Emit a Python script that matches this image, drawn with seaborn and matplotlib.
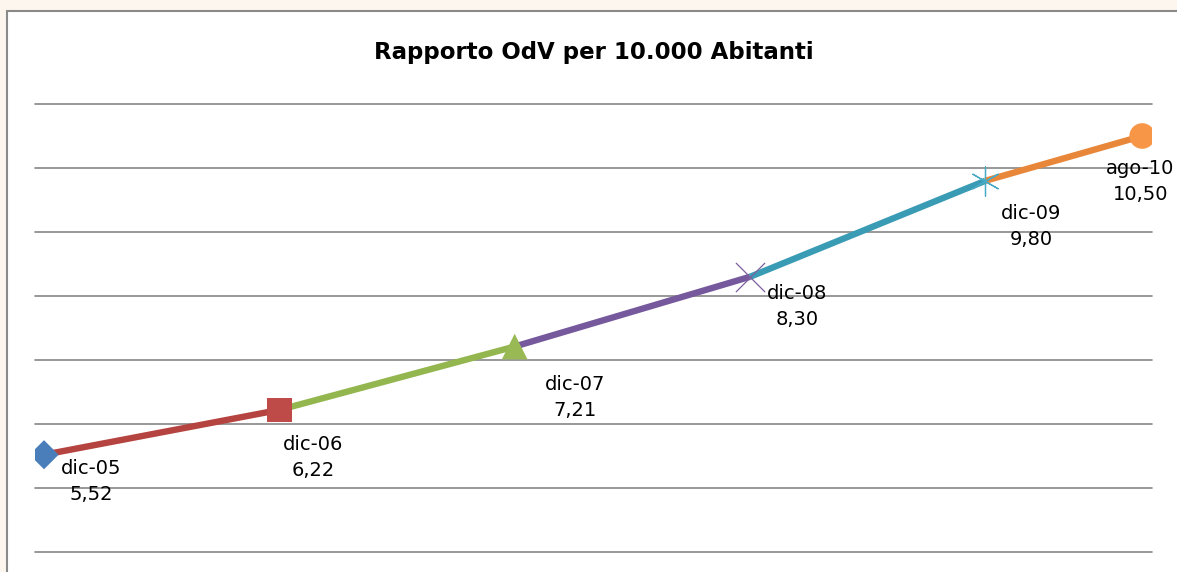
import numpy as np
import pandas as pd
import matplotlib
matplotlib.use("Agg")
import matplotlib.pyplot as plt
import seaborn as sns
from matplotlib.patches import Rectangle

sns.set_theme(style="white")
plt.rcParams['font.family'] = ['DejaVu Sans']

# data
periods = ['2005-12', '2006-12', '2007-12', '2008-12', '2009-12', '2010-08']
labels = ['dic-05', 'dic-06', 'dic-07', 'dic-08', 'dic-09', 'ago-10']
values = [5.52, 6.22, 7.21, 8.30, 9.80, 10.50]

# one colour / marker per point (Excel "vary colours by point")
colors = ['#4A7EBB', '#BE4B48', '#98B954', '#7D60A0', '#46AAC5', '#F79646']
line_colors = ['#4A7EBB', '#B5433F', '#93B64F', '#76589C', '#3A9BB5', '#E8873A']
markers = ['D', 's', '^', 'x', (6, 2, 0), 'o']
marker_sizes = [220, 310, 340, 440, 440, 340]
# label offsets in pixels (dx to centre, dy to top of text)
label_offsets = [(47, -4), (34, -25), (60, -28), (47, -7), (46, -23), (-2, -23)]

first = pd.Period(periods[0], 'M')
months = [(pd.Period(p, 'M') - first).n for p in periods]

# every segment takes the colour of the point it ends on
rows = []
for i in range(1, len(values)):
    rows.append({'x': months[i - 1], 'y': values[i - 1], 'seg': labels[i]})
    rows.append({'x': months[i], 'y': values[i], 'seg': labels[i]})
seg_df = pd.DataFrame(rows)

fig = plt.figure(figsize=(11.77, 5.72), dpi=100)
fig.patch.set_facecolor('#FCF6EE')

# white chart area with grey frame
fig.patches.append(Rectangle((7 / 1177, -0.05), 1.2, 1 - 11 / 572 + 0.05,
                             transform=fig.transFigure, facecolor='white',
                             edgecolor='#8A8A8A', linewidth=1.5, zorder=-1))

ax = fig.add_axes([35 / 1177, 1 - 552 / 572, (1152 - 35) / 1177, (552 - 104) / 572])
ax.set_facecolor('none')

sns.lineplot(data=seg_df, x='x', y='y', hue='seg',
             palette=dict(zip(labels[1:], line_colors[1:])),
             estimator=None, sort=False, linewidth=4.6, legend=False,
             solid_capstyle='butt', ax=ax, zorder=3)

for i in range(len(values)):
    if markers[i] in ('x', (6, 2, 0)):
        ax.scatter(months[i], values[i], marker=markers[i], s=marker_sizes[i],
                   color=colors[i], linewidths=0.9, zorder=4)
    else:
        ax.scatter(months[i], values[i], marker=markers[i], s=marker_sizes[i],
                   color=colors[i], edgecolors='none', zorder=4)
    txt = labels[i] + '\n' + f"{values[i]:.2f}".replace('.', ',')
    ax.annotate(txt, (months[i], values[i]), xytext=label_offsets[i],
                textcoords='offset pixels', ha='center', va='top',
                multialignment='center', fontsize=14, color='black',
                linespacing=1.5, zorder=5)

ax.set_xlim(-0.46, 56.5)
ax.set_ylim(4, 11)
ax.set_yticks(np.arange(4, 12, 1))
ax.set_xticks([])
ax.yaxis.grid(True, color='#868686', linewidth=1.2)
ax.xaxis.grid(False)
for gl in ax.get_ygridlines():
    gl.set_clip_on(False)
ax.tick_params(left=False, bottom=False, labelleft=False, labelbottom=False)
ax.set_xlabel('')
ax.set_ylabel('')
for s in ax.spines.values():
    s.set_visible(False)

fig.text(594 / 1177, 1 - 52 / 572, 'Rapporto OdV per 10.000 Abitanti',
         ha='center', va='center', fontsize=16.5, fontweight='bold', color='black')

fig.savefig('out.png', dpi=100, facecolor=fig.get_facecolor())
